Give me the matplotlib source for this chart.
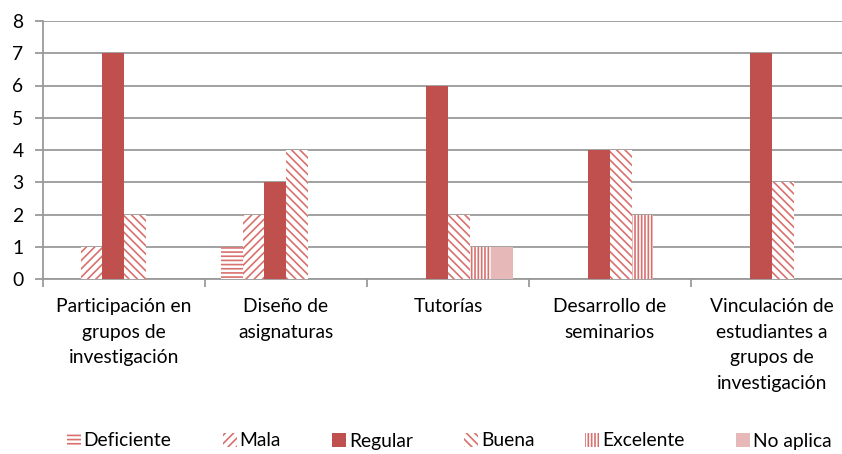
import matplotlib
matplotlib.use("Agg")
import matplotlib.pyplot as plt
from matplotlib.patches import Patch
import numpy as np

categories = [
    "Participación en\ngrupos de\ninvestigación",
    "Diseño de\nasignaturas",
    "Tutorías",
    "Desarrollo de\nseminarios",
    "Vinculación de\nestudiantes a\ngrupos de\ninvestigación",
]
series_names = ["Deficiente", "Mala", "Regular", "Buena", "Excelente", "No aplica"]
deficiente = [0, 1, 0, 0, 0]
mala = [1, 2, 0, 0, 0]
regular = [7, 3, 6, 4, 7]
buena = [2, 4, 2, 4, 3]
excelente = [0, 0, 1, 2, 0]
no_aplica = [0, 0, 1, 0, 0]
yticks = [0, 1, 2, 3, 4, 5, 6, 7, 8]

series_values = [deficiente, mala, regular, buena, excelente, no_aplica]

plt.rcParams["font.family"] = ["Lato", "DejaVu Sans"]
plt.rcParams["hatch.linewidth"] = 1.2

RED = "#C0504D"
HATCH = "#D8716E"
PINK = "#E6B9B8"
GRID = "#9A9A9A"
FS = 13.9

# (facecolor, hatch, hatch colour) per series
styles = [
    ("white", "----", HATCH),
    ("white", "////", HATCH),
    (RED, None, RED),
    ("white", "\\\\\\\\", HATCH),
    ("white", "|||||", HATCH),
    (PINK, None, PINK),
]

fig = plt.figure(figsize=(8.42, 4.54), dpi=100)
ax = fig.add_axes([43 / 842, 1 - 279 / 454, 810 / 842, 258 / 454])

x = np.arange(len(categories))
w = 0.133
for i, (vals, (fc, hatch, hc)) in enumerate(zip(series_values, styles)):
    ax.bar(x + (i - 2.5) * w, vals, width=w, color=fc, hatch=hatch,
           edgecolor=hc, linewidth=0, zorder=3)

ax.set_xlim(-0.5, len(categories) - 0.5)
ax.set_ylim(0, 8)
ax.set_yticks(yticks)
ax.yaxis.grid(True, color=GRID, linewidth=1.3, zorder=0)
ax.set_axisbelow(True)

ax.set_xticks(np.arange(len(categories) + 1) - 0.5)
ax.set_xticklabels([])
ax.set_xticks(x, minor=True)
ax.set_xticklabels(categories, minor=True, fontsize=FS, linespacing=1.6,
                   va="top", ha="center")
ax.tick_params(axis="x", which="minor", length=0, pad=14)
ax.tick_params(axis="x", which="major", length=6, width=1.3, color=GRID)
ax.tick_params(axis="y", length=6, width=1.3, color=GRID, labelsize=FS, pad=8)

for side in ["top", "right"]:
    ax.spines[side].set_visible(False)
for side in ["left", "bottom"]:
    ax.spines[side].set_color(GRID)
    ax.spines[side].set_linewidth(1.3)

handles = [Patch(facecolor=fc, hatch=hatch, edgecolor=hc, linewidth=0)
           for (fc, hatch, hc) in styles]
fig.legend(handles, series_names, loc="center", bbox_to_anchor=(449 / 842, 1 - 441 / 454),
           ncol=6, frameon=False, fontsize=FS, handlelength=0.72,
           handleheight=0.72, handletextpad=0.15, columnspacing=2.65)

fig.savefig("out.png", dpi=100)
